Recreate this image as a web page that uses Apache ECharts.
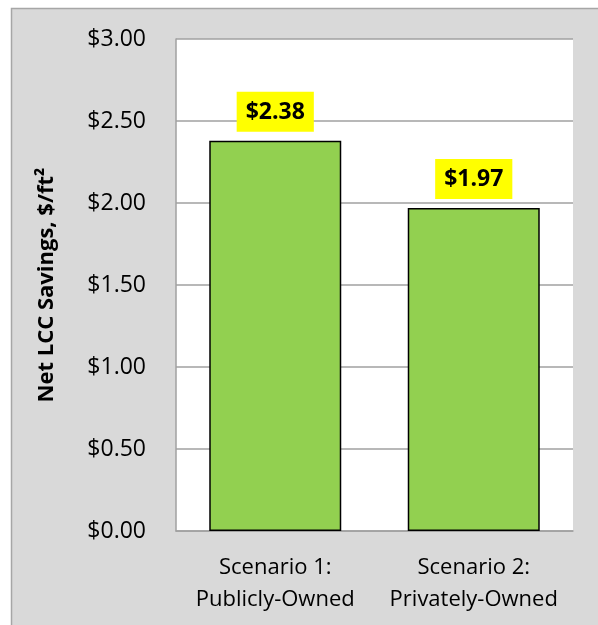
<!DOCTYPE html>
<html>
<head>
<meta charset="utf-8">
<script src="https://cdn.jsdelivr.net/npm/echarts@6/dist/echarts.min.js"></script>
<style>
  html, body { margin: 0; padding: 0; background: #fff; }
  #chart { width: 598px; height: 625px; }
</style>
</head>
<body>
<div id="chart"></div>
<script>
const categories = ['Scenario 1:\nPublicly-Owned', 'Scenario 2:\nPrivately-Owned']
const savings = [2.38, 1.97]
const yTicks = { min: 0, max: 3, interval: 0.5 }
const yTitle = 'Net LCC Savings, $/ft²'

const font = 'Open Sans, Noto Sans, sans-serif'
const chart = echarts.init(document.getElementById('chart'), null, { renderer: 'canvas' })

const option = {
  backgroundColor: '#fff',
  animation: false,
  graphic: [
    {
      type: 'rect',
      z: -10,
      silent: true,
      shape: { x: 11.5, y: 8.5, width: 620, height: 640 },
      style: { fill: '#d9d9d9', stroke: '#a6a6a6', lineWidth: 1.5 },
    },
  ],
  grid: {
    left: 176,
    top: 39,
    right: 25,
    bottom: 94,
    show: true,
    backgroundColor: '#fff',
    borderWidth: 0,
  },
  xAxis: {
    type: 'category',
    data: categories,
    axisLine: { lineStyle: { color: '#a0a0a0', width: 1.5 } },
    axisTick: { show: false },
    axisLabel: {
      interval: 0,
      hideOverlap: false,
      color: '#000',
      fontFamily: font,
      fontSize: 22,
      lineHeight: 32,
      margin: 21,
    },
  },
  yAxis: {
    type: 'value',
    min: yTicks.min,
    max: yTicks.max,
    interval: yTicks.interval,
    name: yTitle,
    nameLocation: 'middle',
    nameGap: 118,
    nameTextStyle: {
      color: '#000',
      fontFamily: font,
      fontSize: 22,
      fontWeight: 'bold',
    },
    axisLine: { show: true, lineStyle: { color: '#a0a0a0', width: 1.5 } },
    axisTick: { show: false },
    splitLine: { lineStyle: { color: '#a0a0a0', width: 1.5 } },
    axisLabel: {
      color: '#000',
      fontFamily: font,
      fontSize: 23,
      margin: 30,
      formatter: (v) => '$' + v.toFixed(2),
    },
  },
  series: [
    {
      type: 'bar',
      data: savings,
      barWidth: '66.5%',
      itemStyle: { color: '#92d050', borderColor: '#000', borderWidth: 1.5 },
      label: {
        show: true,
        position: 'top',
        distance: 9,
        color: '#000',
        fontFamily: font,
        fontSize: 23,
        fontWeight: 'bold',
        backgroundColor: '#ffff00',
        padding: [9, 9, 8, 9],
        formatter: (p) => '$' + p.value.toFixed(2),
      },
    },
  ],
}

option && chart.setOption(option)
</script>
</body>
</html>
